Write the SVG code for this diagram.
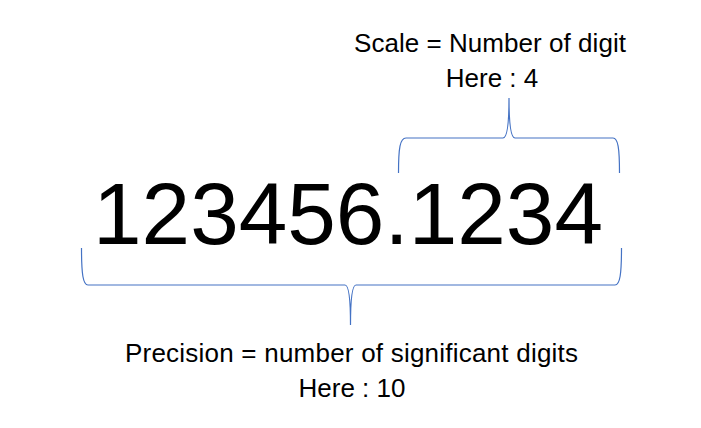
<svg xmlns="http://www.w3.org/2000/svg" width="701" height="428" viewBox="0 0 701 428">
<style>
.lbl{font-family:"Liberation Sans",Arial,sans-serif;font-size:26px;fill:#000;text-anchor:middle}
.num{font-family:"Liberation Sans",Arial,sans-serif;font-size:88px;fill:#000}
.brace{fill:none;stroke:#4472C4;stroke-width:1.2}
</style>
<rect width="701" height="428" fill="#fff"/>
<g id="number"><text class="num" x="93" y="244" textLength="510" lengthAdjust="spacingAndGlyphs">123456.1234</text></g>
<g id="scale-label">
<text class="lbl" x="490" y="52" textLength="272">Scale = Number of digit</text>
<text class="lbl" x="492" y="87">Here : 4</text>
</g>
<g id="precision-label">
<text class="lbl" x="351.5" y="362" textLength="453">Precision = number of significant digits</text>
<text class="lbl" x="352" y="397">Here : 10</text>
</g>
<g id="connectors">
<path id="scale-brace" class="brace" d="M398.5,173 C398.5,148 400,138 406,138 L503,138 C507,138 509,126 509,98 C509,126 511,138 515,138 L613,138 C618,138 619.5,148 619.5,173"/>
<path id="precision-brace" class="brace" d="M81.5,248 C81.5,274 83,285 88,285 L345,285 C349,285 350.5,300 350.5,325 C350.5,300 352,285 356,285 L615,285 C620,285 621.5,274 621.5,248"/>
</g>
</svg>
